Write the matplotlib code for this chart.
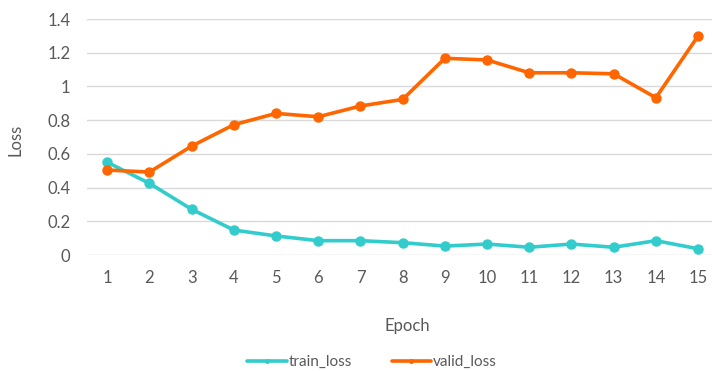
import matplotlib
matplotlib.use("Agg")
import matplotlib.pyplot as plt

epochs = list(range(1, 16))
train_loss = [0.550, 0.425, 0.271, 0.148, 0.113, 0.085, 0.085, 0.073,
              0.053, 0.065, 0.046, 0.065, 0.046, 0.085, 0.037]
valid_loss = [0.504, 0.492, 0.646, 0.773, 0.840, 0.820, 0.884, 0.923,
              1.167, 1.157, 1.081, 1.081, 1.075, 0.933, 1.299]
y_ticks = [0, 0.2, 0.4, 0.6, 0.8, 1.0, 1.2, 1.4]
y_tick_labels = ["0", "0.2", "0.4", "0.6", "0.8", "1", "1.2", "1.4"]

plt.rcParams["font.family"] = ["Lato", "DejaVu Sans"]
text_color = "#595959"

fig = plt.figure(figsize=(7.12, 3.71), dpi=100)
ax = fig.add_axes([87 / 712, (371 - 255) / 371, (712 - 87) / 712, (255 - 19) / 371])

ax.plot(epochs, train_loss, color="#33CCCC", lw=2.6, marker="o", ms=6.5,
        label="train_loss", solid_capstyle="round", zorder=3)
ax.plot(epochs, valid_loss, color="#FF6600", lw=2.6, marker="o", ms=6.5,
        label="valid_loss", solid_capstyle="round", zorder=3)

ax.set_xlim(0.52, 15.33)
ax.set_ylim(0, 1.4)
ax.set_yticks(y_ticks)
ax.set_yticklabels(y_tick_labels)
ax.set_xticks(epochs)
ax.set_xticklabels([str(e) for e in epochs])
ax.yaxis.grid(True, color="#D9D9D9", lw=1.0)
ax.set_axisbelow(True)
for s in ax.spines.values():
    s.set_visible(False)
ax.tick_params(axis="both", length=0, colors=text_color, labelsize=12)
ax.tick_params(axis="y", pad=12)
ax.tick_params(axis="x", pad=11)

fig.text(15 / 712, 1 - 140 / 371, "Loss", rotation=90, ha="center", va="center",
         color=text_color, fontsize=12)
fig.text(407 / 712, 1 - 326 / 371, "Epoch", ha="center", va="center",
         color=text_color, fontsize=12)

leg = fig.legend(loc="center", bbox_to_anchor=(372 / 712, 1 - 362 / 371), ncol=2,
                 frameon=False, fontsize=11, handlelength=2.6, handletextpad=0.1,
                 columnspacing=2.6, markerscale=0.4)
for t in leg.get_texts():
    t.set_color(text_color)

fig.savefig("out.png", dpi=100)
